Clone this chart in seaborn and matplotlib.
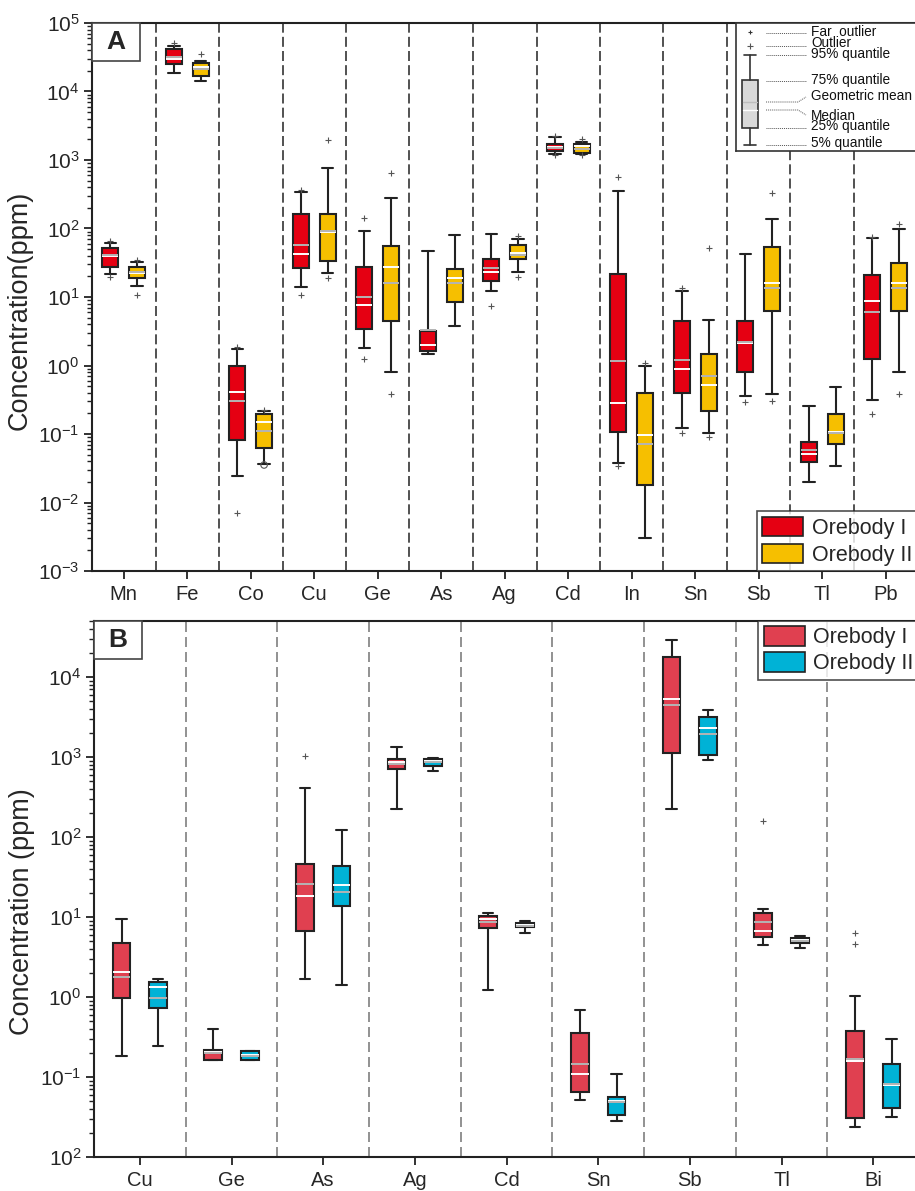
import numpy as np
import seaborn as sns
import matplotlib
matplotlib.use('Agg')
from matplotlib import pyplot as plt
from matplotlib.patches import Patch, Rectangle
from matplotlib.ticker import LogLocator, FixedLocator, FuncFormatter, NullFormatter

# ---- Panel A: Orebody I vs Orebody II (ppm) ----
elems_a = ['Mn', 'Fe', 'Co', 'Cu', 'Ge', 'As', 'Ag', 'Cd', 'In', 'Sn', 'Sb', 'Tl', 'Pb']

# Orebody I
a1_p05 = [21.7, 18600, 0.0244, 14.2, 1.80, 1.47, 12.4, 1224, 0.0373, 0.121, 0.362, 0.0201, 0.31]
a1_q1 = [27, 25300, 0.082, 26.8, 3.41, 1.63, 17.3, 1353, 0.106, 0.40, 0.81, 0.0386, 1.23]
a1_med = [40, 29800, 0.405, 42.5, 7.6, 1.99, 23.4, 1550, 0.286, 0.90, 2.15, 0.051, 8.74]
a1_q3 = [52, 41700, 1.0, 163, 27.7, 3.19, 35.5, 1695, 21.7, 4.46, 4.5, 0.0757, 20.7]
a1_p95 = [61, 46100, 1.72, 345, 93, 47.4, 83, 2144, 356, 12.2, 42.5, 0.256, 72]
a1_gm = [40.5, 31800, 0.30, 57.4, 10.1, 3.3, 26.8, 1500, 1.16, 1.2, 2.23, 0.0583, 6.1]
a1_out = [[65, 19.6], [51000], [1.84, 0.0070], [365, 10.7], [141, 1.23], [], [7.4],
          [2260, 1190], [571, 0.0343], [13.4, 0.102], [0.296], [], [75.9, 0.194]]

# Orebody II
a2_p05 = [14.5, 14200, 0.0361, 22.6, 0.81, 3.81, 22.9, 1224, 0.0030, 0.102, 0.388, 0.0337, 0.81]
a2_q1 = [18.9, 16800, 0.063, 33.9, 4.46, 8.55, 35.9, 1280, 0.018, 0.219, 6.3, 0.0714, 6.3]
a2_med = [22.4, 22800, 0.148, 88, 27.1, 19.1, 43.4, 1620, 0.0967, 0.519, 15.8, 0.108, 16.2]
a2_q3 = [27, 26100, 0.194, 163, 55.5, 25.4, 57.4, 1695, 0.40, 1.47, 54.3, 0.198, 31]
a2_p95 = [32.4, 27900, 0.219, 773, 282, 79.5, 69.5, 1850, 1.0, 4.61, 138, 0.49, 97]
a2_gm = [23, 21300, 0.111, 92, 15.8, 15.8, 40.6, 1446, 0.0714, 0.703, 13.4, 0.105, 13.4]
a2_out = [[34.6, 10.7], [35300], [0.226], [1960, 18.7], [653, 0.38], [], [77.8, 19.8],
          [2050, 1190], [1.1], [52.5, 0.0914], [333, 0.303], [], [116, 0.38]]
a2_circle = {'Co': 0.0353}

# ---- Panel B ----
elems_b = ['Cu', 'Ge', 'As', 'Ag', 'Cd', 'Sn', 'Sb', 'Tl', 'Bi']

b1_p05 = [0.185, 0.163, 1.70, 226, 1.22, 0.0512, 222, 4.47, 0.0237]
b1_q1 = [0.98, 0.163, 6.75, 701, 7.35, 0.0656, 1112, 5.57, 0.031]
b1_med = [2.07, 0.203, 18.5, 857, 9.44, 0.109, 5260, 6.68, 0.16]
b1_q3 = [4.69, 0.2175, 46, 953, 10.3, 0.358, 17950, 11.3, 0.376]
b1_p95 = [9.35, 0.398, 406, 1321, 11.1, 0.688, 29000, 12.7, 1.03]
b1_gm = [1.79, 0.20, 25.9, 809, 8.73, 0.147, 4430, 8.58, 0.169]
b1_out = [[], [], [1030], [], [], [], [], [158], [6.25, 4.6]]

b2_p05 = [0.244, 0.1625, 1.41, 668, 6.37, 0.0279, 912, 4.14, 0.0313]
b2_q1 = [0.736, 0.1625, 13.9, 772, 7.43, 0.0332, 1050, 4.69, 0.041]
b2_med = [1.32, 0.19, 25.1, 891, 8.0, 0.0506, 2326, 5.1, 0.0786]
b2_q3 = [1.56, 0.209, 43.8, 944, 8.33, 0.0568, 3190, 5.41, 0.147]
b2_p95 = [1.66, 0.209, 122, 960, 8.83, 0.110, 3870, 5.85, 0.296]
b2_gm = [0.98, 0.185, 20.5, 857, 7.8, 0.0483, 1958, 5.0, 0.0818]
b2_out = [[], [], [], [], [], [], [], [], []]

groups = ['Orebody I', 'Orebody II']
colors_a = ['#E50012', '#F6BF00']
colors_b = ['#E04050', '#00B2D6']

sns.set_style('ticks')
plt.rcParams['font.family'] = ['Liberation Sans', 'DejaVu Sans']
plt.rcParams['mathtext.fontset'] = 'custom'
plt.rcParams['mathtext.rm'] = 'Liberation Sans'
plt.rcParams['mathtext.it'] = 'Liberation Sans:italic'
plt.rcParams['mathtext.bf'] = 'Liberation Sans:bold'

DARK = '#222222'


def make_stats(p05, q1, med, q3, p95, gm, out):
    return [dict(whislo=p05[i], q1=q1[i], med=med[i], q3=q3[i], whishi=p95[i],
                 mean=gm[i], fliers=out[i]) for i in range(len(med))]


def draw_boxes(ax, stats, pos, color, width, capw):
    ax.bxp(stats, positions=pos, widths=width, capwidths=capw, patch_artist=True,
           showmeans=True, meanline=True, showfliers=True,
           boxprops=dict(facecolor=color, edgecolor=DARK, linewidth=1.5),
           whiskerprops=dict(color=DARK, linewidth=1.5),
           capprops=dict(color=DARK, linewidth=1.5),
           medianprops=dict(color='white', linewidth=1.4),
           meanprops=dict(color='#b4b4b4', linewidth=1.4, linestyle='-'),
           flierprops=dict(marker='+', markersize=5, markeredgecolor='#555555',
                           markeredgewidth=0.8), manage_ticks=False, zorder=3)


def style_axis(ax, cats, lo, hi, top, sep_color, dashes, odd_label=None):
    ax.set_yscale('log')
    ax.set_ylim(10.0 ** lo, top)
    ax.set_xlim(-0.5, len(cats) - 0.5)
    ax.set_xticks(range(len(cats)))
    ax.set_xticklabels(cats, fontsize=14.5)
    for i in range(len(cats) - 1):
        ax.axvline(i + 0.5, color=sep_color, lw=1.2, dashes=dashes, zorder=1)
    ax.yaxis.set_major_locator(FixedLocator([10.0 ** k for k in range(lo, hi + 1)]))
    ax.yaxis.set_minor_locator(LogLocator(base=10, subs=np.arange(2, 10), numticks=20))
    ax.yaxis.set_minor_formatter(NullFormatter())

    def fmt(v, p):
        e = int(round(np.log10(v)))
        if odd_label is not None and e == odd_label:
            e = abs(e)
        return '$\\mathregular{10^{%d}}$' % e
    ax.yaxis.set_major_formatter(FuncFormatter(fmt))
    ax.tick_params(axis='y', which='major', direction='out', length=6, width=1.3,
                   labelsize=15, pad=3, color=DARK)
    ax.tick_params(axis='y', which='minor', direction='out', length=3.5, width=1.0,
                   color=DARK)
    ax.tick_params(axis='x', direction='out', length=6, width=1.3, pad=4, color=DARK)
    for s in ['left', 'bottom', 'top']:
        ax.spines[s].set_color(DARK)
        ax.spines[s].set_linewidth(1.5)
    ax.spines['right'].set_visible(False)
    ax.grid(False)


def panel_letter(ax, letter, w, h):
    ax.add_patch(Rectangle((0, 1 - h), w, h, transform=ax.transAxes, facecolor='white',
                           edgecolor='#444444', lw=1.2, zorder=5, clip_on=False))
    ax.text(w / 2, 1 - h / 2, letter, transform=ax.transAxes, ha='center', va='center',
            fontsize=19, fontweight='bold', zorder=6)


fig = plt.figure(figsize=(9.15, 11.91), dpi=100)
W, H = 915, 1191

# ---------------- Panel A ----------------
axA = fig.add_axes([92 / W, 1 - 571 / H, 825.5 / W, 548 / H])
xa = np.arange(len(elems_a))
draw_boxes(axA, make_stats(a1_p05, a1_q1, a1_med, a1_q3, a1_p95, a1_gm, a1_out),
           xa - 0.21, colors_a[0], 0.25, 0.18)
draw_boxes(axA, make_stats(a2_p05, a2_q1, a2_med, a2_q3, a2_p95, a2_gm, a2_out),
           xa + 0.21, colors_a[1], 0.25, 0.18)
for el, v in a2_circle.items():
    axA.scatter([elems_a.index(el) + 0.21], [v], s=22, facecolor='none',
                edgecolor='#555555', linewidth=0.8, zorder=4)
style_axis(axA, elems_a, -3, 5, 1e5, '#333333', (6, 2.5))
axA.set_ylabel('Concentration(ppm)', fontsize=19.5)
axA.yaxis.set_label_coords(-0.072, 0.476)
panel_letter(axA, 'A', 48 / 825.5, 38 / 548)
legA = axA.legend(handles=[Patch(facecolor=c, edgecolor=DARK, lw=1.2, label=g)
                           for c, g in zip(colors_a, groups)],
                  loc='lower right', bbox_to_anchor=(1.0, 0.0), fontsize=15.5,
                  frameon=True, fancybox=False, borderaxespad=0, handlelength=1.9,
                  handleheight=1.0, handletextpad=0.4, labelspacing=0.22,
                  borderpad=0.25)
legA.get_frame().set_edgecolor(DARK)
legA.get_frame().set_linewidth(1.2)
legA.set_zorder(10)

# key explaining the box symbols
key = fig.add_axes([736 / W, 1 - 151 / H, 182 / W, 128 / H], zorder=10)
key.set_xlim(736, 918)
key.set_ylim(151, 23)
key.set_xticks([])
key.set_yticks([])
for s in key.spines.values():
    s.set_color('#333333')
    s.set_linewidth(1.2)
key.set_facecolor('white')
key.add_patch(Rectangle((742, 80), 16, 48, facecolor='#d9d9d9', edgecolor='#333333', lw=1.2))
key.plot([750, 750], [55, 80], color='#333333', lw=1.2)
key.plot([750, 750], [128, 145], color='#333333', lw=1.2)
key.plot([744, 756], [55, 55], color='#333333', lw=1.2)
key.plot([744, 756], [145, 145], color='#333333', lw=1.2)
key.plot([742.8, 757.2], [102, 102], color='#bdbdbd', lw=1.0)
key.plot([742.8, 757.2], [110, 110], color='white', lw=1.0)
key.plot([750], [32], marker='+', ms=3, mec='#333333', mew=0.8)
key.plot([750], [46], marker='+', ms=4, mec='#555555', mew=0.8)
dot = dict(color='#555555', lw=0.7, ls=(0, (1, 1)))
for yy in [33, 46, 55, 81, 128, 145]:
    key.plot([766, 806], [yy, yy], **dot)
key.plot([766, 798, 806], [102, 102, 97], **dot)
key.plot([766, 798, 806], [110, 110, 115], **dot)
kfont = dict(fontsize=9.8, ha='left', color='#111111')
key.text(811, 43, 'Far  outlier\nOutlier\n95% quantile', va='center', linespacing=0.72, **kfont)
key.text(811, 80, '75% quantile', va='center', **kfont)
key.text(811, 96, 'Geometric mean', va='center', **kfont)
key.text(811, 121, 'Median\n25% quantile', va='center', linespacing=0.68, **kfont)
key.text(811, 143, '5% quantile', va='center', **kfont)

# ---------------- Panel B ----------------
axB = fig.add_axes([94 / W, 1 - 1157 / H, 825 / W, 536 / H])
xb = np.arange(len(elems_b))
draw_boxes(axB, make_stats(b1_p05, b1_q1, b1_med, b1_q3, b1_p95, b1_gm, b1_out),
           xb - 0.2, colors_b[0], 0.195, 0.11)
draw_boxes(axB, make_stats(b2_p05, b2_q1, b2_med, b2_q3, b2_p95, b2_gm, b2_out),
           xb + 0.2, colors_b[1], 0.195, 0.11)
style_axis(axB, elems_b, -2, 4, 10 ** 4.7, '#7f7f7f', (6, 3), odd_label=-2)
axB.set_ylabel('Concentration (ppm)', fontsize=19.5)
axB.yaxis.set_label_coords(-0.072, 0.457)
panel_letter(axB, 'B', 48 / 825, 38 / 536)
legB = axB.legend(handles=[Patch(facecolor=c, edgecolor=DARK, lw=1.2, label=g)
                           for c, g in zip(colors_b, groups)],
                  loc='upper right', bbox_to_anchor=(1.0, 1.0), fontsize=15.5,
                  frameon=True, fancybox=False, borderaxespad=0, handlelength=1.9,
                  handleheight=1.0, handletextpad=0.4, labelspacing=0.18,
                  borderpad=0.25)
legB.get_frame().set_edgecolor(DARK)
legB.get_frame().set_linewidth(1.2)
legB.set_zorder(10)

fig.savefig('out.png', dpi=100)
